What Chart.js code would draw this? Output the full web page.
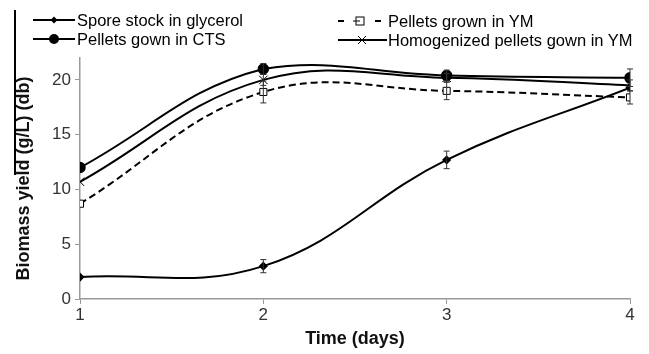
<!DOCTYPE html>
<html>
<head>
<meta charset="utf-8">
<script src="https://cdn.jsdelivr.net/npm/chart.js@4/dist/chart.umd.min.js"></script>
<style>
html,body{margin:0;padding:0;background:#fff;}
#wrap{position:relative;width:649px;height:354px;}
#c{position:absolute;left:0;top:0;}
.leg{position:absolute;font-family:"Liberation Sans",Arial,sans-serif;font-size:16.5px;color:#000;white-space:nowrap;line-height:18px;}
.leg svg{position:absolute;}
#frame{position:absolute;left:14px;top:10px;width:1.5px;height:165px;background:#000;}
</style>
</head>
<body>
<div id="wrap">
<canvas id="c" width="649" height="354"></canvas>
<div id="frame"></div>
<div id="legend"></div>
</div>
<script>
const days = [1, 2, 3, 4];
const seriesNames = ["Spore stock in glycerol", "Pellets gown in CTS", "Pellets grown in YM", "Homogenized pellets gown in YM"];
const sporeStock = [2.0, 3.0, 12.7, 19.3];
const sporeErr = [0, 0.6, 0.8, 0];
const pelletsCTS = [12.0, 21.0, 20.4, 20.2];
const ctsErr = [0, 0.5, 0.5, 0.8];
const pelletsYM = [8.7, 18.9, 19.0, 18.4];
const ymErr = [0, 1.0, 0.8, 0.6];
const homogenizedYM = [10.7, 20.0, 20.2, 19.5];
const homErr = [0, 0.5, 0.4, 0.5];
const yTicks = [0, 5, 10, 15, 20];

function pts(vals){ return days.map((d,i)=>({x:d,y:vals[i]})); }

const errorBars = {
  id:'errorBars',
  afterDatasetsDraw(chart){
    const ctx = chart.ctx, xs = chart.scales.x, ys = chart.scales.y;
    ctx.save();
    ctx.strokeStyle = '#333';
    ctx.lineWidth = 1;
    chart.data.datasets.forEach(ds=>{
      (ds.errors||[]).forEach((e,i)=>{
        if(!e) return;
        const px = xs.getPixelForValue(days[i]);
        const y1 = ys.getPixelForValue(ds.data[i].y + e);
        const y2 = ys.getPixelForValue(ds.data[i].y - e);
        ctx.beginPath();
        ctx.moveTo(px, y1); ctx.lineTo(px, y2);
        ctx.moveTo(px-3, y1); ctx.lineTo(px+3, y1);
        ctx.moveTo(px-3, y2); ctx.lineTo(px+3, y2);
        ctx.stroke();
      });
    });
    ctx.restore();
  }
};

const common = {borderColor:'#000', borderWidth:2, tension:0.4, pointBorderColor:'#000', pointBorderWidth:1.5};

new Chart(document.getElementById('c'), {
  type:'line',
  data:{datasets:[
    Object.assign({}, common, {label:seriesNames[0], data:pts(sporeStock), errors:sporeErr, pointStyle:'rectRot', pointRadius:3.5, pointBackgroundColor:'#000'}),
    Object.assign({}, common, {label:seriesNames[1], data:pts(pelletsCTS), errors:ctsErr, pointStyle:'circle', pointRadius:5, pointBackgroundColor:'#000'}),
    Object.assign({}, common, {label:seriesNames[2], data:pts(pelletsYM), errors:ymErr, pointStyle:'rect', pointRadius:5, pointBackgroundColor:'#fff', pointBorderWidth:1, borderDash:[7,4]}),
    Object.assign({}, common, {label:seriesNames[3], data:pts(homogenizedYM), errors:homErr, pointStyle:'crossRot', pointRadius:6, pointBorderWidth:1})
  ]},
  options:{
    responsive:false, animation:false,
    layout:{padding:{left:6,right:19,top:58,bottom:0}},
    plugins:{legend:{display:false}, tooltip:{enabled:false}},
    scales:{
      x:{type:'linear', min:1, max:4,
        afterFit(s){ s.height = 55; },
        ticks:{stepSize:1, color:'#333', font:{family:'Liberation Sans', size:17}, padding:1},
        grid:{drawOnChartArea:false, drawTicks:true, tickLength:5, color:'#999'},
        border:{color:'#999', width:1.5},
        title:{display:true, text:'Time (days)', color:'#111', font:{family:'Liberation Sans', size:18, weight:'bold'}, padding:{top:2}}
      },
      y:{min:0, max:22,
        afterFit(s){ s.width = 74; },
        afterBuildTicks(s){ s.ticks = yTicks.map(v=>({value:v})); },
        ticks:{color:'#333', font:{family:'Liberation Sans', size:17}, padding:4},
        grid:{drawOnChartArea:false, drawTicks:true, tickLength:5, color:'#999'},
        border:{color:'#999', width:1.5},
        title:{display:true, text:'Biomass yield (g/L) (db)', color:'#111', font:{family:'Liberation Sans', size:18, weight:'bold'}, padding:{top:7, bottom:2}}
      }
    }
  },
  plugins:[errorBars]
});

// HTML legend
const legendItems = [
  {name:seriesNames[0], x:33, cy:20, sym:'diamond', dash:false, lineW:42, mark:21, textX:77},
  {name:seriesNames[1], x:33, cy:39, sym:'circle', dash:false, lineW:42, mark:21, textX:77},
  {name:seriesNames[2], x:338, cy:21, sym:'square', dash:true, lineW:43, mark:22, textX:388},
  {name:seriesNames[3], x:338, cy:40, sym:'x', dash:false, lineW:49, mark:24, textX:388}
];
const lg = document.getElementById('legend');
legendItems.forEach(it=>{
  const w = it.lineW, cx = it.mark, cy = 9;
  let mark = '';
  if(it.sym==='diamond') mark = `<polygon points="${cx},${cy-3.5} ${cx+3.5},${cy} ${cx},${cy+3.5} ${cx-3.5},${cy}" fill="#000"/>`;
  if(it.sym==='circle') mark = `<circle cx="${cx}" cy="${cy}" r="5" fill="#000"/>`;
  if(it.sym==='square') mark = `<rect x="${cx-4}" y="${cy-4}" width="8" height="8" fill="#fff" stroke="#000" stroke-width="1"/><path d="M${cx-7},${cy}H${cx}" stroke="#000" stroke-width="1"/>`;
  if(it.sym==='x') mark = `<path d="M${cx-4},${cy-4}L${cx+4},${cy+4}M${cx-4},${cy+4}L${cx+4},${cy-4}" stroke="#000" stroke-width="1"/>`;
  const line = it.dash
    ? `<path d="M0,${cy}H6M${w-6},${cy}H${w}" stroke="#000" stroke-width="2"/>`
    : `<path d="M0,${cy}H${w}" stroke="#000" stroke-width="2"/>`;
  const s = document.createElement('div');
  s.className='leg';
  s.style.left = it.x+'px'; s.style.top = (it.cy-9)+'px';
  s.innerHTML = `<svg width="${w}" height="18" style="left:0;top:0">${line}${mark}</svg><span style="position:absolute;left:${it.textX-it.x}px;top:0">${it.name}</span>`;
  lg.appendChild(s);
});
</script>
</body>
</html>
